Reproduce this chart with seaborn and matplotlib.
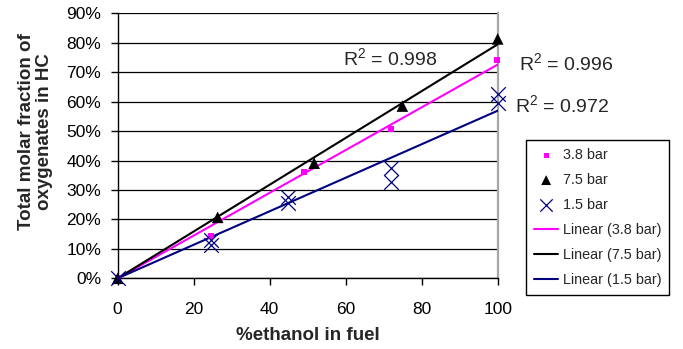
import numpy as np
import pandas as pd
import matplotlib
matplotlib.use("Agg")
import matplotlib.pyplot as plt
from matplotlib.ticker import PercentFormatter, MultipleLocator
import seaborn as sns

# Measured molar fraction of oxygenates (%) vs ethanol content in fuel (%)
x_38 = [0, 24.6, 49.0, 71.9, 99.8]
y_38 = [0, 14.5, 36.2, 50.6, 74.1]

x_75 = [0, 26.3, 51.7, 74.9, 100]
y_75 = [0, 20.7, 39.1, 58.5, 81.3]

x_15 = [0, 24.6, 24.6, 44.7, 44.7, 71.9, 71.9, 100, 100]
y_15 = [0, 13.0, 11.3, 27.7, 25.5, 37.4, 32.8, 62.6, 59.5]

series_labels = ["3.8 bar", "7.5 bar", "1.5 bar"]
r2_values = [0.996, 0.998, 0.972]

sns.set_theme(style="white")
plt.rcParams["font.family"] = ["Liberation Sans", "DejaVu Sans"]
plt.rcParams["mathtext.fontset"] = "custom"
plt.rcParams["mathtext.rm"] = "Liberation Sans"
plt.rcParams["mathtext.it"] = "Liberation Sans"

fig = plt.figure(figsize=(6.83, 3.49), dpi=100)
ax = fig.add_axes([0.1723, 0.2026, 0.5564, 0.7593])

colors = {"3.8 bar": "#FF00FF", "7.5 bar": "#000000", "1.5 bar": "#000080"}

def origin_slope(x, y):
    x = np.asarray(x, float)
    y = np.asarray(y, float)
    return (x * y).sum() / (x * x).sum()

# scatter points
d38 = pd.DataFrame({"x": x_38, "y": y_38})
d75 = pd.DataFrame({"x": x_75, "y": y_75})
d15 = pd.DataFrame({"x": x_15, "y": y_15})

sns.scatterplot(data=d38, x="x", y="y", ax=ax, marker="s", s=18,
                color=colors["3.8 bar"], edgecolor="none", label="3.8 bar",
                clip_on=False, zorder=5)
sns.scatterplot(data=d75, x="x", y="y", ax=ax, marker="^", s=70,
                color=colors["7.5 bar"], edgecolor="none", label="7.5 bar",
                clip_on=False, zorder=5)
sns.scatterplot(data=d15, x="x", y="y", ax=ax, marker="x", s=110,
                color=colors["1.5 bar"], linewidth=0.9, label="1.5 bar",
                clip_on=False, zorder=6)

# linear trend lines through the origin
xfit = np.array([0.0, 100.0])
for lab, (xs, ys) in zip(series_labels, [(x_38, y_38), (x_75, y_75), (x_15, y_15)]):
    k = origin_slope(xs, ys)
    fit = pd.DataFrame({"x": xfit, "y": k * xfit})
    sns.lineplot(data=fit, x="x", y="y", ax=ax, color=colors[lab],
                 linewidth=1.5, label=f"Linear ({lab})", zorder=4)

ax.set_xlim(0, 100)
ax.set_ylim(0, 90)
ax.xaxis.set_major_locator(MultipleLocator(20))
ax.yaxis.set_major_locator(MultipleLocator(10))
ax.yaxis.set_major_formatter(PercentFormatter(100, decimals=0))

ax.yaxis.grid(True, color="black", linewidth=0.9)
ax.set_axisbelow(True)

ax.spines["top"].set_visible(False)
ax.spines["right"].set_color("#A6A6A6")
ax.spines["right"].set_linewidth(1.6)
for side in ["left", "bottom"]:
    ax.spines[side].set_color("black")
    ax.spines[side].set_linewidth(1.0)

ax.tick_params(axis="both", direction="out", length=5, width=1.0,
               color="black", labelsize=12.5, labelcolor="black",
               bottom=True, left=True)
ax.tick_params(axis="y", pad=7)
ax.tick_params(axis="x", pad=12)

ax.set_xlabel("%ethanol in fuel", fontsize=13.5, fontweight="bold", labelpad=7)
ax.set_ylabel("Total molar fraction of\noxygenates in HC", fontsize=13.5,
              fontweight="bold", linespacing=1.05)
ax.yaxis.set_label_coords(-0.170, 0.552)

# R² annotations
ax.text(71.7, 74.8, f"R$^{{2}}$ = {r2_values[1]:.3f}", fontsize=14,
        ha="center", va="center", clip_on=False)
ax.text(118.0, 73.1, f"R$^{{2}}$ = {r2_values[0]:.3f}", fontsize=14,
        ha="center", va="center", clip_on=False)
ax.text(117.0, 58.9, f"R$^{{2}}$ = {r2_values[2]:.3f}", fontsize=14,
        ha="center", va="center", clip_on=False)

handles, labels = ax.get_legend_handles_labels()
leg = ax.legend(handles, labels, loc="upper left",
                bbox_to_anchor=(0.770, 0.599), bbox_transform=fig.transFigure,
                fontsize=10.4, frameon=True, fancybox=False, framealpha=1,
                edgecolor="black", handlelength=1.7, labelspacing=0.76,
                borderpad=0.55, handletextpad=0.3, borderaxespad=0,
                markerscale=0.85)
leg.get_frame().set_linewidth(1.0)

fig.savefig("out.png", dpi=100)
